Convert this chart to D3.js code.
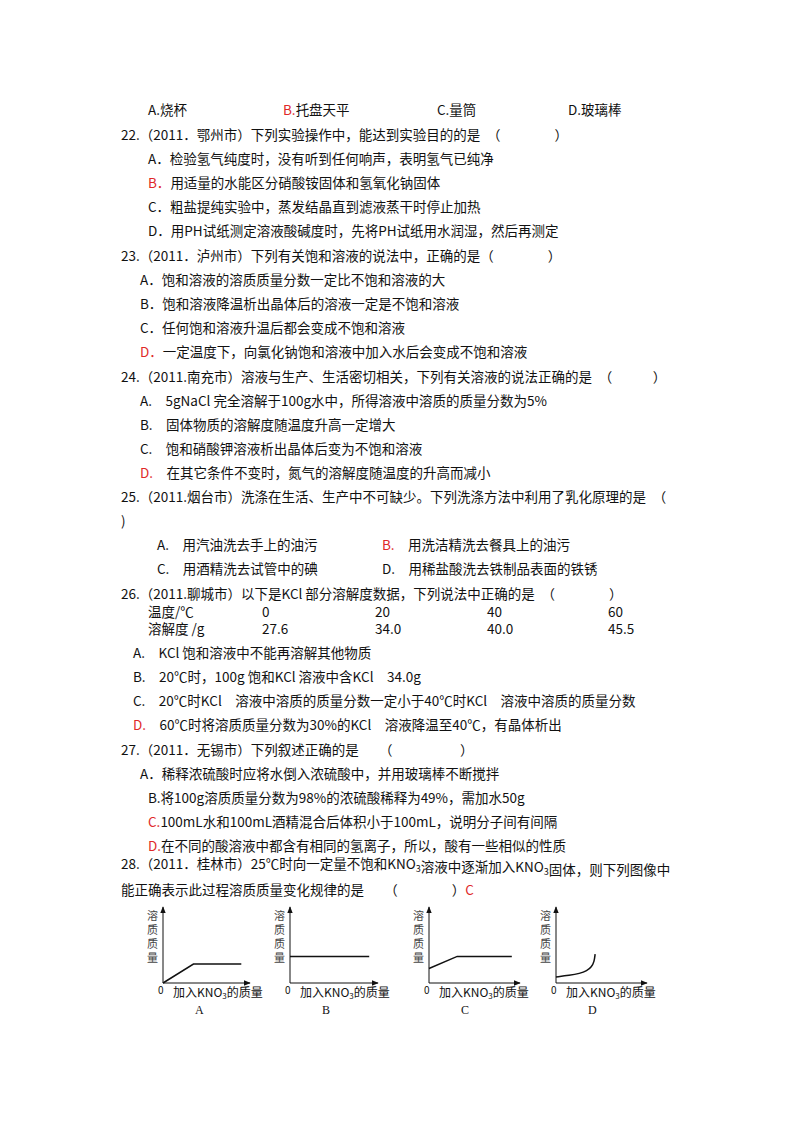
<!DOCTYPE html>
<html><head><meta charset="utf-8">
<script src="https://cdn.jsdelivr.net/npm/d3@7"></script>
<style>body{margin:0;background:#fff}text{font-family:"Noto Sans CJK SC",sans-serif;font-size:13.5px;fill:#111}</style>
</head><body>
<svg id="page" width="800" height="1132"></svg>
<script>
// text lines: [x, y, text]; {..} = red, _..._ = subscript
var lines = [
  [148,115,"A.烧杯"],[283,115,"{B.}托盘天平"],[437,115,"C.量筒"],[568,115,"D.玻璃棒"],
  [121,140,"22.（2011．鄂州市）下列实验操作中，能达到实验目的的是　（　　　　）"],
  [148,164,"A．检验氢气纯度时，没有听到任何响声，表明氢气已纯净"],
  [148,188,"{B．}用适量的水能区分硝酸铵固体和氢氧化钠固体"],
  [148,212,"C．粗盐提纯实验中，蒸发结晶直到滤液蒸干时停止加热"],
  [148,236,"D．用PH试纸测定溶液酸碱度时，先将PH试纸用水润湿，然后再测定"],
  [121,261,"23.（2011．泸州市）下列有关饱和溶液的说法中，正确的是（　　　　）"],
  [140,285,"A．饱和溶液的溶质质量分数一定比不饱和溶液的大"],
  [140,309,"B．饱和溶液降温析出晶体后的溶液一定是不饱和溶液"],
  [140,333,"C．任何饱和溶液升温后都会变成不饱和溶液"],
  [140,357,"{D．}一定温度下，向氯化钠饱和溶液中加入水后会变成不饱和溶液"],
  [121,382,"24.（2011.南充市）溶液与生产、生活密切相关，下列有关溶液的说法正确的是　（　　　）"],
  [140,406,"A.　5gNaCl 完全溶解于100g水中，所得溶液中溶质的质量分数为5%"],
  [140,430,"B.　固体物质的溶解度随温度升高一定增大"],
  [140,454,"C.　饱和硝酸钾溶液析出晶体后变为不饱和溶液"],
  [140,478,"{D.}　在其它条件不变时，氮气的溶解度随温度的升高而减小"],
  [121,502,"25.（2011.烟台市）洗涤在生活、生产中不可缺少。下列洗涤方法中利用了乳化原理的是　（"],
  [121,526,")"],
  [157,550,"A.　用汽油洗去手上的油污"],[382,550,"{B.}　用洗洁精洗去餐具上的油污"],
  [157,574,"C.　用酒精洗去试管中的碘"],[382,574,"D.　用稀盐酸洗去铁制品表面的铁锈"],
  [121,599,"26.（2011.聊城市）以下是KCl 部分溶解度数据，下列说法中正确的是　（　　　　）"],
  [148,617,"温度/℃"],[262,617,"0"],[375,617,"20"],[487,617,"40"],[608,617,"60"],
  [148,634,"溶解度 /g"],[262,634,"27.6"],[375,634,"34.0"],[487,634,"40.0"],[608,634,"45.5"],
  [133,658,"A.　KCl 饱和溶液中不能再溶解其他物质"],
  [133,682,"B.　20℃时，100g 饱和KCl 溶液中含KCl　34.0g"],
  [133,706,"C.　20℃时KCl　溶液中溶质的质量分数一定小于40℃时KCl　溶液中溶质的质量分数"],
  [133,730,"{D.}　60℃时将溶质质量分数为30%的KCl　溶液降温至40℃，有晶体析出"],
  [121,755,"27.（2011．无锡市）下列叙述正确的是　　（　　　　　）"],
  [140,779,"A．稀释浓硫酸时应将水倒入浓硫酸中，并用玻璃棒不断搅拌"],
  [148,803,"B.将100g溶质质量分数为98%的浓硫酸稀释为49%，需加水50g"],
  [148,827,"{C.}100mL水和100mL酒精混合后体积小于100mL，说明分子间有间隔"],
  [148,851,"{D.}在不同的酸溶液中都含有相同的氢离子，所以，酸有一些相似的性质"],
  [121,869,"28.（2011．桂林市）25℃时向一定量不饱和KNO_3_溶液中逐渐加入KNO_3_固体，则下列图像中"],
  [121,895,"能正确表示此过程溶质质量变化规律的是　　（　　　　）{C}"]
];

// mini charts: axis origin, size, curve points in unit domain [0,10]
var charts = ["A","B","C","D"];
var originX = [163, 290, 429, 556];
var originY = 983;
var axisLen = [87, 88, 91, 91];
var curves = [
  [[0,0],[3.5,2.5],[9,2.5]],
  [[0,3.5],[9,3.5]],
  [[0,1.9],[3.1,3.5],[9.1,3.5]],
  [[0,0.8],[1.5,1.0],[2.6,1.25],[3.4,1.6],[3.9,2.1],[4.2,2.8],[4.3,3.8]]
];
var curveKind = ["linear","linear","linear","basis"];

var svg = d3.select("#page");

lines.forEach(function(l){
  var t = svg.append("text").attr("x", l[0]).attr("y", l[1]);
  l[2].split(/(\{[^}]*\}|_[^_]*_)/).forEach(function(s){
    if (!s) return;
    if (s[0] === "{") t.append("tspan").style("fill","#e02828").text(s.slice(1,-1));
    else if (s[0] === "_") t.append("tspan").attr("dy",3).style("font-size","9px").text(s.slice(1,-1));
    else t.append("tspan").attr("dy", t.selectAll("tspan").size() && /^_/.test(l[2].split(/(\{[^}]*\}|_[^_]*_)/).filter(Boolean)[t.selectAll("tspan").size()-1]) ? -3 : 0).text(s);
  });
});

svg.append("defs").append("marker").attr("id","arr").attr("viewBox","0 0 10 10")
  .attr("refX",9).attr("refY",5).attr("markerWidth",7).attr("markerHeight",7)
  .attr("markerUnits","userSpaceOnUse").attr("orient","auto")
  .append("path").attr("d","M0,1L10,5L0,9Z").attr("fill","#111");

charts.forEach(function(name, i){
  var g = svg.append("g");
  var x = d3.scaleLinear().domain([0,10]).range([originX[i], originX[i] + axisLen[i]]);
  var y = d3.scaleLinear().domain([0,10]).range([originY, originY - 76]);
  g.append("line").attr("x1",x(0)).attr("y1",y(0)).attr("x2",x(0)).attr("y2",y(10))
    .attr("stroke","#111").attr("marker-end","url(#arr)");
  g.append("line").attr("x1",x(0)).attr("y1",y(0)).attr("x2",x(10)).attr("y2",y(0))
    .attr("stroke","#111").attr("marker-end","url(#arr)");
  var curve = curveKind[i] === "basis" ? d3.curveBasis : d3.curveLinear;
  g.append("path").datum(curves[i])
    .attr("d", d3.line().x(function(d){return x(d[0]);}).y(function(d){return y(d[1]);}).curve(curve))
    .attr("fill","none").attr("stroke","#111").attr("stroke-width",1.5);
  "溶质质量".split("").forEach(function(c, k){
    g.append("text").attr("x", x(0) - 16).attr("y", originY - 63 + k*14)
      .style("font-size","11px").style("fill","#444").text(c);
  });
  g.append("text").attr("x", x(0) - 5).attr("y", originY + 11).style("font-size","10px").text("0");
  var xl = g.append("text").attr("x", x(0) + 10).attr("y", originY + 14).style("font-size","12px");
  xl.append("tspan").text("加入KNO");
  xl.append("tspan").attr("dy",2).style("font-size","8px").text("3");
  xl.append("tspan").attr("dy",-2).text("的质量");
  g.append("text").attr("x", x(0) + 32).attr("y", originY + 31).style("font-size","12px")
    .style("font-family","Liberation Serif").text(name);
});
</script>
</body></html>
